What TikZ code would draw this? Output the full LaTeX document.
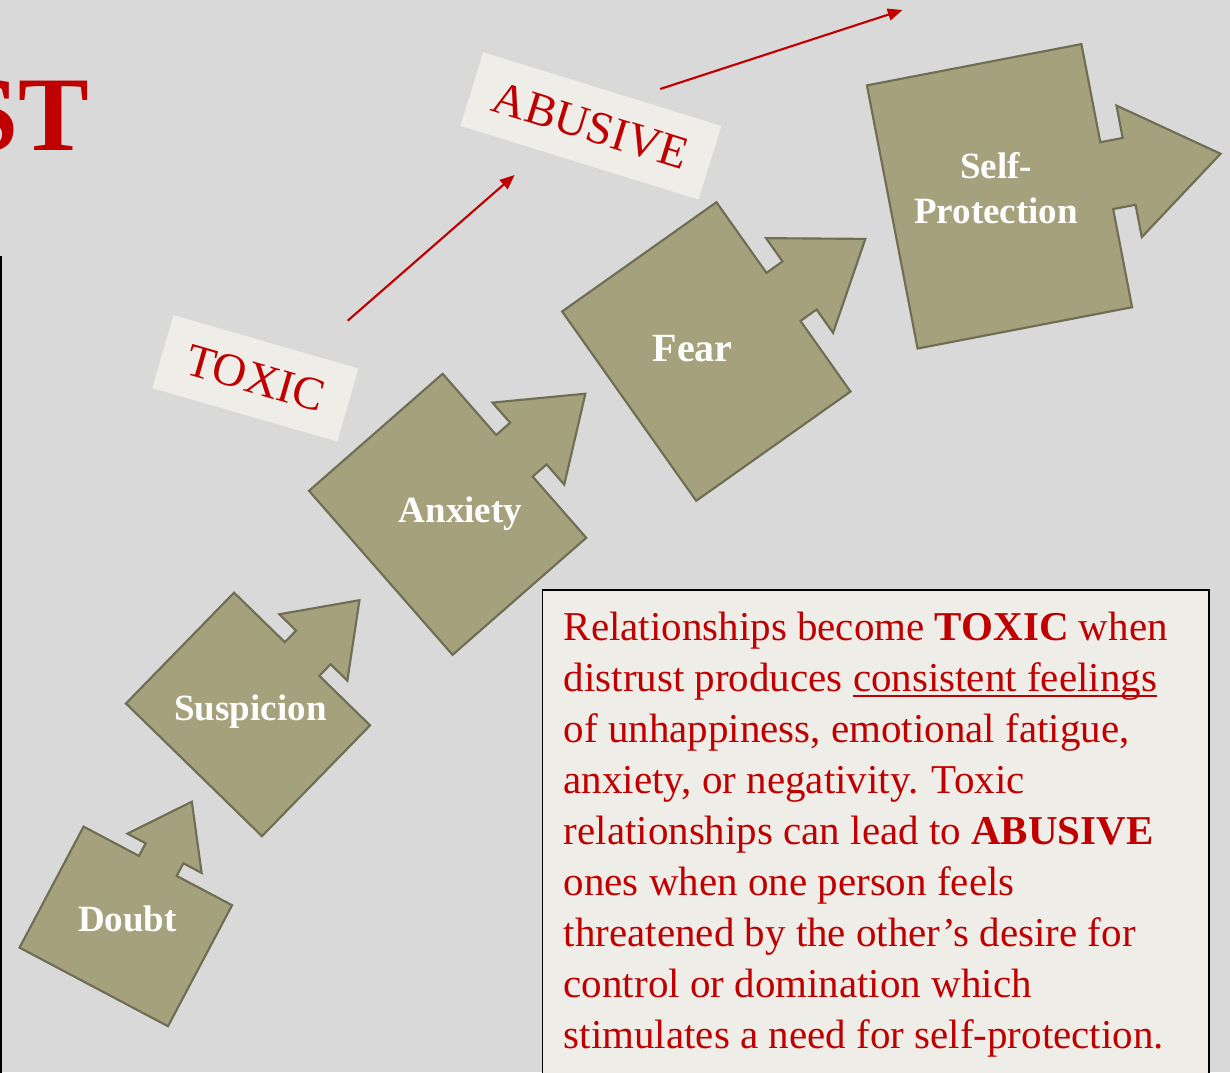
\documentclass[tikz,border=0pt]{standalone}
\usepackage{fontspec}
\setmainfont{Liberation Serif}
\usetikzlibrary{arrows.meta}
\definecolor{bgc}{HTML}{D9D9D9}
\definecolor{olivefill}{HTML}{A5A17C}
\definecolor{olivedraw}{HTML}{6F6E55}
\definecolor{paper}{HTML}{EEEDE7}
\definecolor{deepred}{HTML}{C00000}
\tikzset{
  stepstyle/.style={fill=olivefill, draw=olivedraw, line width=1.6pt, line join=miter},
  steplabel/.style={text=white, font=\bfseries\fontsize{27.75}{30}\selectfont, inner sep=0pt, anchor=base, align=center},
  labelbox/.style={fill=paper, draw=none, text=deepred, font=\fontsize{35}{36}\selectfont, inner sep=0pt},
  redarrow/.style={draw=deepred, line width=1.6pt, -{Triangle[length=11pt,width=9pt]}},
  bodyline/.style={text=deepred, font=\fontsize{30.75}{38}\selectfont, inner sep=0pt, anchor=base west}
}
\newcommand\myul[1]{\leavevmode\setbox0\hbox{#1}\rlap{\rule[-4.2pt]{\wd0}{1.5pt}}\box0}
\newcommand\mystepshape[4]{%
  \begin{scope}[shift={(#1,#2)},rotate=#3,scale=#4]
    \draw[stepstyle] (-0.4075,-0.5) -- (0.4075,-0.5) -- (0.4075,-0.127) -- (0.4925,-0.127)
      -- (0.4925,-0.25) -- (0.84,0) -- (0.4925,0.25) -- (0.4925,0.127) -- (0.4075,0.127)
      -- (0.4075,0.5) -- (-0.4075,0.5) -- cycle;
  \end{scope}}
\begin{document}
\begin{tikzpicture}[x=0.75pt,y=-0.75pt]
\useasboundingbox (0,0) rectangle (1230,1072);
\clip (0,0) rectangle (1230,1072);
\fill[bgc] (0,0) rectangle (1230,1072);

% title fragment
\node[anchor=base east, text=deepred, font=\bfseries\fontsize{79.5}{80}\selectfont, inner sep=0pt] (title) at (89,150) {ST};

% left frame edge
\draw[black, line width=2pt] (1,256) -- (1,1080);

% step shapes
\mystepshape{125.8}{926.4}{62.1}{168}
\mystepshape{248}{714.4}{45.7}{190}
\mystepshape{447.6}{514.3}{41.2}{218}
\mystepshape{706.3}{351.5}{35.3}{232}
\mystepshape{999.5}{196.3}{10.9}{268}

\node[steplabel] (doubt) at (127.5,931.5) {Doubt};
\node[steplabel] (suspicion) at (250.5,720) {Suspicion};
\node[steplabel] (anxiety) at (460.5,522.5) {Anxiety};
\node[steplabel, font=\bfseries\fontsize{30}{32}\selectfont] (fear) at (692.7,361.5) {Fear};
\node[steplabel] (self) at (996,178.5) {Self-};
\node[steplabel] (protection) at (996,223) {Protection};

% labels
\node[labelbox, minimum width=144.4pt, minimum height=57pt, rotate=-16.1] (toxic) at (255.4,378.3) {TOXIC};
\node[labelbox, minimum width=187pt, minimum height=57.8pt, rotate=-17.2] (abusive) at (590.9,125.9) {ABUSIVE};

% red arrows
\coordinate (a1s) at (347.7,320.7);
\coordinate (a1e) at (514.6,175);
\coordinate (a2s) at (660.2,89);
\coordinate (a2e) at (902.5,10);
\draw[redarrow] (a1s) -- (a1e);
\draw[redarrow] (a2s) -- (a2e);

% text box
\draw[fill=paper, draw=black, line width=1.2pt] (542.5,590) rectangle (1209,1085);
\node[bodyline] (t1) at (563.5,640) {Relationships become \textbf{TOXIC} when};
\node[bodyline] (t2) at (563.5,691.04) {distrust produces \myul{consistent feelings}};
\node[bodyline] (t3) at (563.5,742.08) {of unhappiness, emotional fatigue,};
\node[bodyline] (t4) at (563.5,793.12) {anxiety, or negativity. Toxic};
\node[bodyline] (t5) at (563.5,844.16) {relationships can lead to \textbf{ABUSIVE}};
\node[bodyline] (t6) at (563.5,895.2) {ones when one person feels};
\node[bodyline] (t7) at (563.5,946.24) {threatened by the other’s desire for};
\node[bodyline] (t8) at (563.5,997.28) {control or domination which};
\node[bodyline] (t9) at (563.5,1048.32) {stimulates a need for self-protection.};
\end{tikzpicture}
\end{document}
